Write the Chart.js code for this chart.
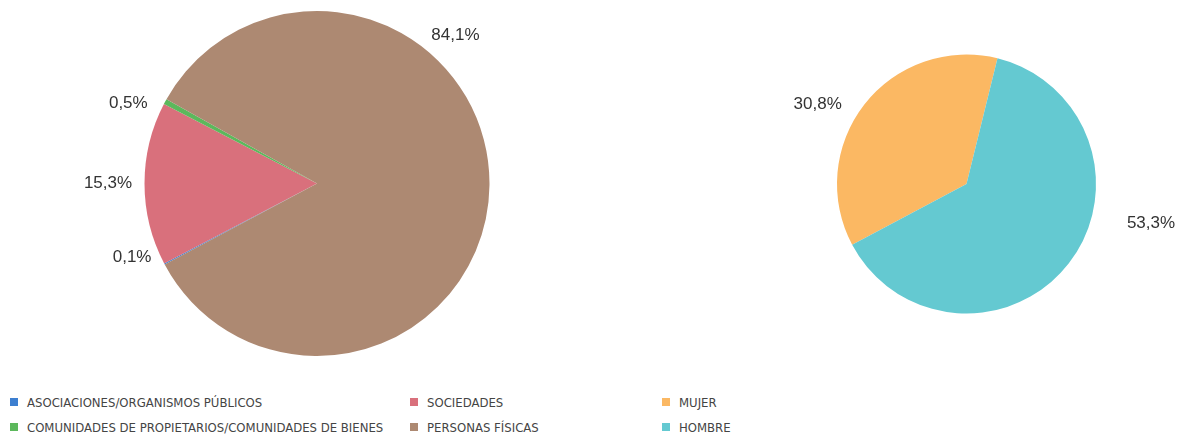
<!DOCTYPE html>
<html>
<head>
<meta charset="utf-8">
<script src="https://cdn.jsdelivr.net/npm/chart.js@4/dist/chart.umd.min.js"></script>
<style>
  body { margin: 0; background: #fff; width: 1178px; height: 434px; overflow: hidden; position: relative; }
  .caja { position: absolute; }
  .leyenda { position: absolute; display: grid; row-gap: 7px;
    font-family: 'Liberation Sans Narrow', 'DejaVu Sans Condensed', sans-serif; font-stretch: condensed;
    font-size: 13px; color: #444; }
  .item { display: flex; align-items: center; height: 18px; white-space: nowrap; }
  .item i { display: inline-block; width: 8px; height: 8px; margin-right: 9px; }
</style>
</head>
<body>
<div class="caja" style="left:0;top:0;width:634px;height:367px"><canvas id="graficoTipo"></canvas></div>
<div class="caja" style="left:757px;top:0;width:419px;height:368px"><canvas id="graficoSexo"></canvas></div>
<div class="leyenda" id="leyendaTipo" style="left:10px;top:393px;grid-template-columns:400px 240px"></div>
<div class="leyenda" id="leyendaSexo" style="left:662px;top:393px;grid-template-columns:200px"></div>
<script>
// Datos del gráfico de tipo de titular
const tipos = ['ASOCIACIONES/ORGANISMOS PÚBLICOS', 'SOCIEDADES', 'COMUNIDADES DE PROPIETARIOS/COMUNIDADES DE BIENES', 'PERSONAS FÍSICAS'];
const porcentajesTipo = [0.1, 15.3, 0.5, 84.1];
const coloresTipo = ['#3d7fd0', '#d9707c', '#5cb85c', '#ad8972'];

// Datos del gráfico por sexo
const sexos = ['MUJER', 'HOMBRE'];
const porcentajesSexo = [30.8, 53.3];
const coloresSexo = ['#fbb863', '#64c9d1'];

// Plugin para escribir los porcentajes fuera de la tarta
const etiquetasPlugin = {
  id: 'etiquetas',
  afterDatasetsDraw(chart, args, opts) {
    const ctx = chart.ctx;
    const arcos = chart.getDatasetMeta(0).data;
    const valores = chart.data.datasets[0].data;
    ctx.save();
    ctx.font = '17px "Liberation Sans", Arial, sans-serif';
    ctx.fillStyle = '#333';
    ctx.textAlign = 'center';
    ctx.textBaseline = 'middle';
    arcos.forEach((arco, i) => {
      const ang = opts.angulos[i] * Math.PI / 180;
      const d = opts.distancias[i];
      const texto = valores[i].toFixed(1).replace('.', ',') + '%';
      ctx.fillText(texto, arco.x + Math.cos(ang) * d, arco.y + Math.sin(ang) * d);
    });
    ctx.restore();
  }
};

const opcionesBase = (padding, etiquetas) => ({
  responsive: true,
  maintainAspectRatio: false,
  animation: false,
  rotation: 242,
  layout: { padding: padding },
  elements: { arc: { borderWidth: 0 } },
  plugins: {
    legend: { display: false },
    tooltip: { enabled: false },
    etiquetas: etiquetas
  }
});

new Chart(document.getElementById('graficoTipo').getContext('2d'), {
  type: 'pie',
  data: {
    labels: tipos,
    datasets: [{ data: porcentajesTipo, backgroundColor: coloresTipo }]
  },
  options: opcionesBase({ top: 11, bottom: 11 }, {
    angulos: [158.3, 180, 203, -47],
    distancias: [199, 209, 205, 203]
  }),
  plugins: [etiquetasPlugin]
});

new Chart(document.getElementById('graficoSexo').getContext('2d'), {
  type: 'pie',
  data: {
    labels: sexos,
    datasets: [{ data: porcentajesSexo, backgroundColor: coloresSexo }]
  },
  options: opcionesBase({ top: 54.5, bottom: 54.5 }, {
    angulos: [208.3, 12],
    distancias: [169, 188.6]
  }),
  plugins: [etiquetasPlugin]
});

// Leyendas
const pintarLeyenda = (id, nombres, colores) => {
  const cont = document.getElementById(id);
  nombres.forEach((n, i) => {
    const d = document.createElement('div');
    d.className = 'item';
    d.innerHTML = '<i style="background:' + colores[i] + '"></i>' + n;
    cont.appendChild(d);
  });
};
pintarLeyenda('leyendaTipo', tipos, coloresTipo);
pintarLeyenda('leyendaSexo', sexos, coloresSexo);
</script>
</body>
</html>
